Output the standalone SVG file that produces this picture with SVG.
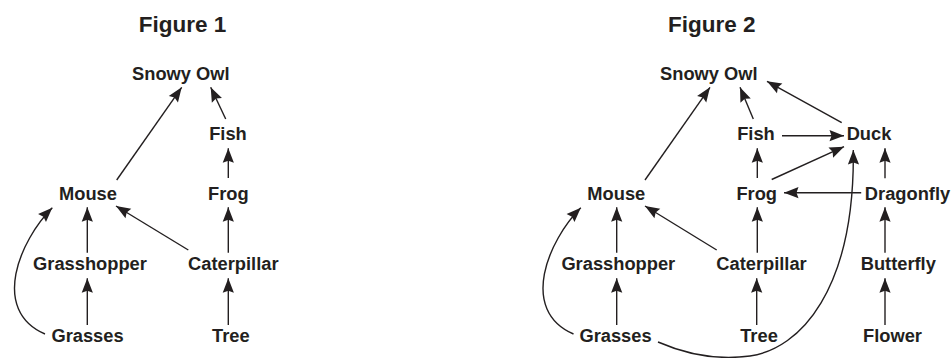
<svg xmlns="http://www.w3.org/2000/svg" width="951" height="358" viewBox="0 0 951 358">
<style>
text{font-family:"Liberation Sans",Arial,sans-serif;font-weight:bold;fill:#231f20;text-anchor:middle}
.t{font-size:22.5px}
.n{font-size:18.3px}
.c path,.c line{stroke:#231f20;stroke-width:1.4;fill:none;marker-end:url(#ah)}
</style>
<defs>
<marker id="ah" markerUnits="userSpaceOnUse" markerWidth="16" markerHeight="14" viewBox="-15 -7 16 14" refX="0" refY="0" orient="auto">
<path d="M0,0 L-14.5,-5.6 L-12.5,0 L-14.5,5.6 Z" fill="#231f20"/>
</marker>
</defs>
<g id="title1"><text class="t" x="182.5" y="31.5">Figure 1</text></g>
<g id="title2"><text class="t" x="711.7" y="31.5">Figure 2</text></g>

<g id="f1-owl"><text class="n" x="180.8" y="80">Snowy Owl</text></g>
<g id="f1-fish"><text class="n" x="228" y="140">Fish</text></g>
<g id="f1-mouse"><text class="n" x="88" y="199.5">Mouse</text></g>
<g id="f1-frog"><text class="n" x="228.3" y="199.5">Frog</text></g>
<g id="f1-grasshopper"><text class="n" x="90" y="270">Grasshopper</text></g>
<g id="f1-caterpillar"><text class="n" x="233.3" y="270">Caterpillar</text></g>
<g id="f1-grasses"><text class="n" x="87.5" y="341.7">Grasses</text></g>
<g id="f1-tree"><text class="n" x="230.8" y="341.7">Tree</text></g>

<g id="f2-owl"><text class="n" x="708.8" y="80">Snowy Owl</text></g>
<g id="f2-fish"><text class="n" x="756" y="140">Fish</text></g>
<g id="f2-duck"><text class="n" x="869" y="140">Duck</text></g>
<g id="f2-mouse"><text class="n" x="616.3" y="199.5">Mouse</text></g>
<g id="f2-frog"><text class="n" x="756.7" y="199.5">Frog</text></g>
<g id="f2-dragonfly"><text class="n" x="907.5" y="199.5">Dragonfly</text></g>
<g id="f2-grasshopper"><text class="n" x="618.3" y="270">Grasshopper</text></g>
<g id="f2-caterpillar"><text class="n" x="761.5" y="270">Caterpillar</text></g>
<g id="f2-butterfly"><text class="n" x="898.3" y="270">Butterfly</text></g>
<g id="f2-grasses"><text class="n" x="615.5" y="341.7">Grasses</text></g>
<g id="f2-tree"><text class="n" x="759" y="341.7">Tree</text></g>
<g id="f2-flower"><text class="n" x="892.5" y="341.7">Flower</text></g>

<g id="connectors" class="c">
<line x1="116.7" y1="180" x2="181.7" y2="87.3"/>
<line x1="225.7" y1="119" x2="210.7" y2="87.3"/>
<line x1="228.3" y1="178" x2="228.3" y2="148.3"/>
<line x1="87.3" y1="252.7" x2="87.3" y2="207.3"/>
<line x1="188.3" y1="250" x2="116" y2="206"/>
<line x1="228.3" y1="252.7" x2="228.3" y2="207.3"/>
<line x1="87.3" y1="325" x2="87.3" y2="278.3"/>
<line x1="228.3" y1="325" x2="228.3" y2="278.3"/>
<path d="M45,334 C-10,310 20,240 52.3,207.8"/>

<line x1="645" y1="180" x2="710" y2="87.3"/>
<line x1="753.3" y1="119" x2="740" y2="87.3"/>
<line x1="841.7" y1="122.7" x2="767" y2="81.3"/>
<line x1="782" y1="135.7" x2="844" y2="135.7"/>
<line x1="757.3" y1="178" x2="757.3" y2="148.3"/>
<line x1="771.7" y1="179.5" x2="844" y2="146.7"/>
<line x1="885" y1="178.3" x2="885" y2="148.3"/>
<line x1="861.2" y1="192.7" x2="784" y2="192.7"/>
<line x1="616.7" y1="252.7" x2="616.7" y2="207.3"/>
<line x1="716.7" y1="250" x2="645" y2="206"/>
<line x1="757.3" y1="252.7" x2="757.3" y2="207.3"/>
<line x1="885" y1="252.7" x2="885" y2="207.3"/>
<line x1="616.7" y1="325" x2="616.7" y2="278.3"/>
<line x1="756.7" y1="325" x2="756.7" y2="278.3"/>
<line x1="885" y1="325" x2="885" y2="278.3"/>
<path d="M573.5,334 C518.5,310 548.5,240 580.8,207.8"/>
<path d="M658,342 C690,356 720,360 750,356 C800,349 855,290 853.3,150"/>
</g>
</svg>
